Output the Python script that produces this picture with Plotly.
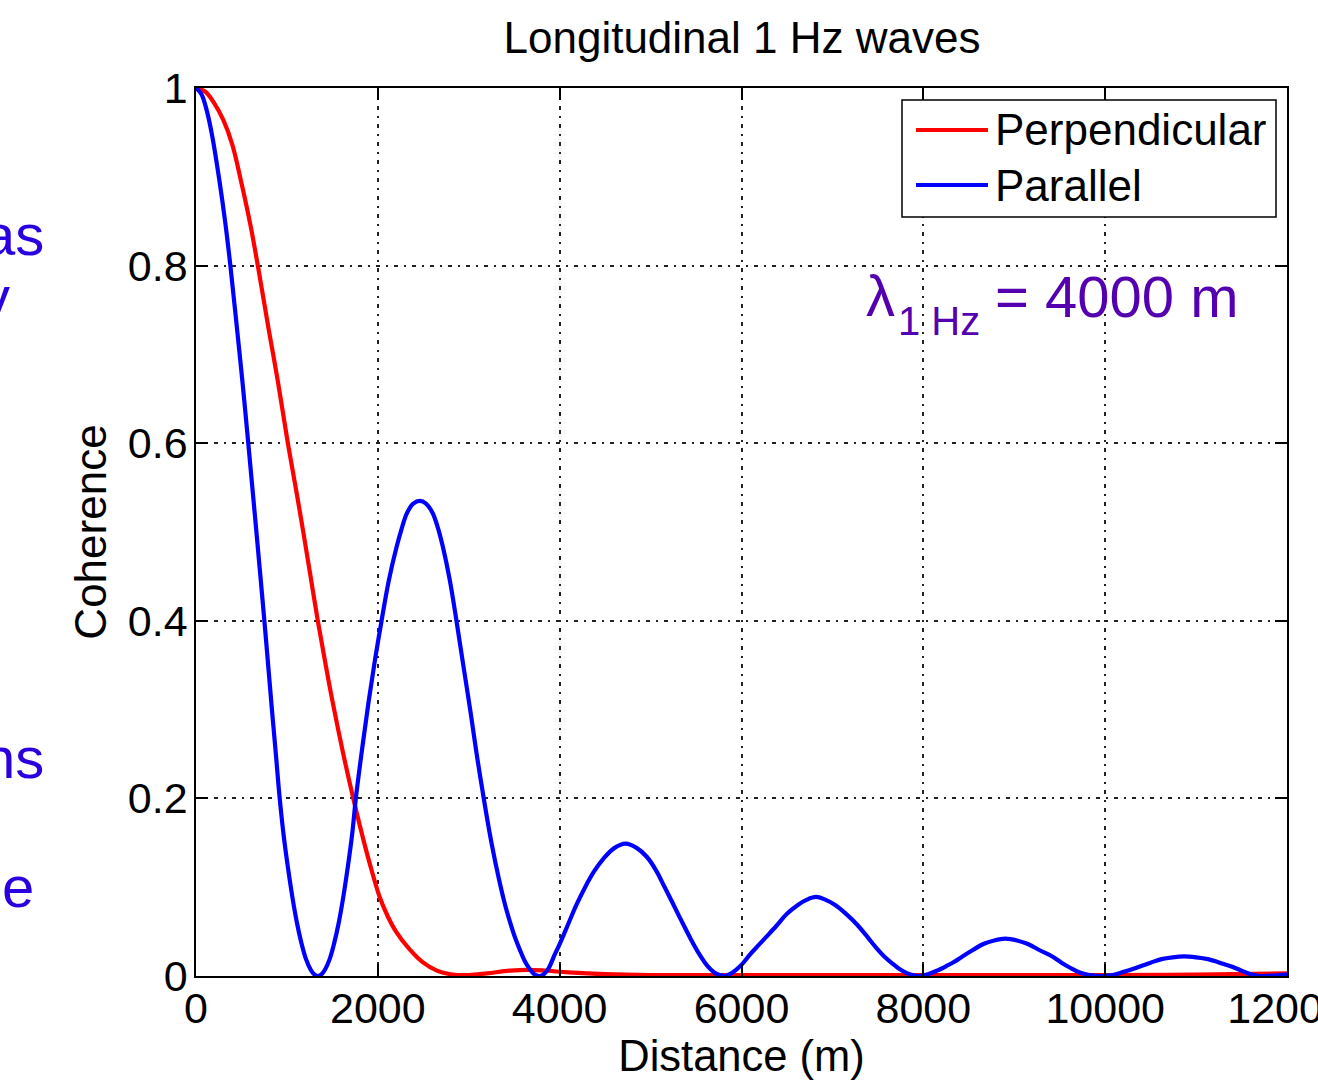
import plotly.graph_objects as go

# Coherence of longitudinal 1 Hz waves versus sensor separation
dist_perp = [0, 100, 200, 300, 400, 500, 600, 680, 800, 900, 1010, 1100, 1180, 1260,
             1340, 1420, 1500, 1620, 1730, 1860, 1940, 2020, 2110, 2200, 2350, 2500,
             2650, 2800, 3000, 3200, 3450, 3650, 3850, 4100, 4500, 5000, 6000, 8000,
             10000, 11000, 12000]
coh_perp = [1.000, 0.996, 0.983, 0.964, 0.936, 0.893, 0.845, 0.800, 0.728, 0.670, 0.600,
            0.548, 0.500, 0.450, 0.400, 0.354, 0.310, 0.250, 0.200, 0.146, 0.116, 0.089,
            0.067, 0.050, 0.030, 0.015, 0.006, 0.002, 0.001, 0.003, 0.006, 0.007, 0.006,
            0.004, 0.002, 0.001, 0.001, 0.001, 0.001, 0.0015, 0.003]

dist_par = [0, 60, 120, 180, 257, 320, 378, 440, 510, 575, 660, 752, 835, 880, 917, 960,
            1010, 1060, 1110, 1160, 1210, 1260, 1300, 1340, 1380, 1420, 1470, 1520, 1570,
            1620, 1670, 1720, 1758, 1830, 1900, 1970, 2041, 2120, 2206, 2260, 2319, 2390,
            2462, 2530, 2600, 2660, 2716, 2791, 2865, 2940, 3020, 3090, 3165, 3250, 3341,
            3400, 3450, 3510, 3560, 3620, 3670, 3720, 3780,
            3830, 3880, 3945, 4000, 4100, 4184, 4280, 4380, 4480, 4600, 4725, 4850, 4960,
            5060, 5150, 5244, 5340, 5440, 5539, 5620, 5700, 5760, 5813,
            5870, 5940, 6012, 6100, 6190, 6272, 6380, 6500, 6620, 6720, 6821, 6920, 7030,
            7150, 7270, 7385, 7480, 7570, 7661, 7750, 7850, 7950,
            8050, 8150, 8250, 8340, 8430, 8540, 8660, 8780, 8902, 9030, 9150, 9280, 9419,
            9520, 9620, 9720, 9830, 9968,
            10080, 10180, 10280, 10374, 10500, 10620, 10740, 10868, 11000, 11130, 11260,
            11397, 11500, 11600, 11700, 11850, 12000]
coh_par = [1.000, 0.993, 0.974, 0.945, 0.896, 0.850, 0.800, 0.740, 0.670, 0.600, 0.505,
           0.400, 0.300, 0.248, 0.204, 0.162, 0.123, 0.089, 0.060, 0.037, 0.019, 0.0073,
           0.0018, 0.000, 0.0018, 0.0073, 0.019, 0.037, 0.060, 0.089, 0.123, 0.162, 0.200,
           0.258, 0.310, 0.357, 0.400, 0.445, 0.483, 0.503, 0.521, 0.532, 0.535, 0.532,
           0.522, 0.505, 0.483, 0.446, 0.400, 0.350, 0.297, 0.248, 0.200, 0.150, 0.105,
           0.080, 0.062, 0.043, 0.030, 0.016, 0.008, 0.002, 0.000,
           0.0025, 0.009, 0.024, 0.036, 0.060, 0.080, 0.100, 0.118, 0.132, 0.144, 0.149,
           0.144, 0.134, 0.119, 0.101, 0.082, 0.062, 0.042, 0.024, 0.012, 0.004, 0.001,
           0.000,
           0.002, 0.007, 0.014, 0.025, 0.035, 0.044, 0.056, 0.070, 0.080, 0.086, 0.089,
           0.086, 0.080, 0.070, 0.058, 0.044, 0.032, 0.022, 0.014, 0.007, 0.002, 0.000,
           0.002, 0.006, 0.011, 0.016, 0.022, 0.029, 0.036, 0.040, 0.042, 0.040, 0.036,
           0.029, 0.022, 0.015, 0.009, 0.004, 0.001, 0.000,
           0.001, 0.004, 0.007, 0.0105, 0.015, 0.019, 0.021, 0.022, 0.021, 0.019, 0.015,
           0.0105, 0.006, 0.002, 0.000, 0.0005, 0.002]

x_ticks = [0, 2000, 4000, 6000, 8000, 10000, 12000]
x_tick_text = ["0", "2000", "4000", "6000", "8000", "10000", "12000"]
y_ticks = [0, 0.2, 0.4, 0.6, 0.8, 1.0]
y_tick_text = ["0", "0.2", "0.4", "0.6", "0.8", "1"]

series = [
    ("Perpendicular", dist_perp, coh_perp, "#ff0000"),
    ("Parallel", dist_par, coh_par, "#0000ff"),
]

W, H = 1318, 1081
ML, MR, MT, MB = 196, 31, 88, 105
PW, PH = W - ML - MR, H - MT - MB


def px(xp):
    return (xp - ML) / PW


def py(yp):
    return (H - MB - yp) / PH


FONT = "Liberation Sans, Arial, Helvetica, sans-serif"
LINE_W = 4.2

fig = go.Figure()
for name, xs, ys, color in series:
    fig.add_trace(go.Scatter(x=xs, y=ys, mode="lines", name=name, showlegend=False,
                             line=dict(color=color, width=LINE_W, shape="spline",
                                       smoothing=1.0)))

grid_dash = "4px,6px,2px,6px"
axis_common = dict(showline=True, linecolor="black", linewidth=1.5, mirror="ticks",
                   ticks="inside", ticklen=12, tickwidth=1.5, tickcolor="black",
                   showgrid=True, gridcolor="#222222", gridwidth=1.5, griddash=grid_dash,
                   zeroline=False, automargin=False, ticklabeloverflow="allow",
                   tickfont=dict(size=43, color="black", family=FONT))

fig.update_xaxes(range=[0, 12000], tickvals=x_ticks, ticktext=x_tick_text,
                 ticklabelstandoff=-6,
                 title=dict(text="Distance (m)", font=dict(size=43.5, color="black", family=FONT),
                            standoff=0),
                 **axis_common)
fig.update_yaxes(range=[0, 1], tickvals=y_ticks, ticktext=y_tick_text,
                 ticklabelstandoff=-2,
                 title=dict(text="Coherence", font=dict(size=44, color="black", family=FONT),
                            standoff=7),
                 **axis_common)

# legend box drawn in paper space
shapes = [dict(type="rect", xref="paper", yref="paper", x0=px(902), x1=px(1276),
               y0=py(217), y1=py(100), fillcolor="white",
               line=dict(color="black", width=1.5), layer="above")]
annotations = []
for (name, _, _, color), ly in zip(series, [130, 185]):
    shapes.append(dict(type="line", xref="paper", yref="paper", x0=px(916), x1=px(988),
                       y0=py(ly), y1=py(ly), line=dict(color=color, width=LINE_W),
                       layer="above"))
    annotations.append(dict(xref="paper", yref="paper", x=px(993), y=py(ly), text=name,
                            xanchor="left", yanchor="middle", showarrow=False,
                            font=dict(size=44, color="black", family=FONT)))

# wavelength note: symbol, subscript and value
note_color = "#5500b0"
for txt, xl, yc, size in [("λ", 864, 295, 58), ("1 Hz", 896, 321, 40),
                          ("= 4000 m", 993, 296, 58)]:
    annotations.append(dict(xref="paper", yref="paper", x=px(xl), y=py(yc), text=txt,
                            xanchor="left", yanchor="middle", showarrow=False,
                            font=dict(size=size, color=note_color, family=FONT)))

# slide text running in from the left edge
side_blue = "#2a00e0"
for txt, xr, yc in [("as", 46, 234), ("y", 12, 296), ("ns", 46, 757), ("e", 36, 886)]:
    annotations.append(dict(xref="paper", yref="paper", x=px(xr), y=py(yc), text=txt,
                            xanchor="right", yanchor="middle", showarrow=False,
                            font=dict(size=58, color=side_blue, family=FONT)))

fig.update_layout(
    width=W, height=H, margin=dict(l=ML, r=MR, t=MT, b=MB),
    paper_bgcolor="white", plot_bgcolor="white",
    title=dict(text="Longitudinal 1 Hz waves", x=px(742), xref="paper", xanchor="center",
               y=1 - 38 / H, yanchor="middle",
               font=dict(size=44, color="black", family=FONT)),
    shapes=shapes, annotations=annotations,
)

fig.write_html("out.html")
